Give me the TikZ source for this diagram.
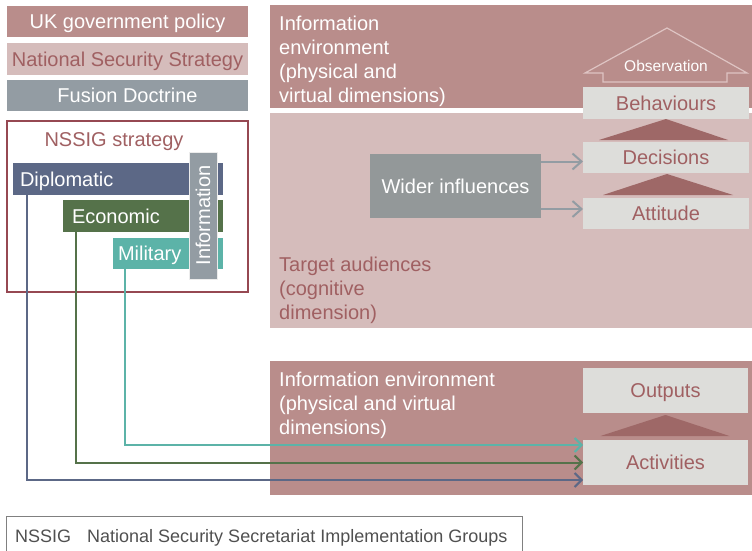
\documentclass[tikz,border=0pt]{standalone}
\usepackage{fontspec}
\setmainfont{Liberation Sans}
\usetikzlibrary{calc,arrows.meta}

\definecolor{roseA}{RGB}{185,141,139}
\definecolor{roseB}{RGB}{213,188,187}
\definecolor{roseText}{RGB}{160,96,98}
\definecolor{roseDark}{RGB}{158,104,103}
\definecolor{frameRed}{RGB}{150,72,82}
\definecolor{fusionGrey}{RGB}{147,156,163}
\definecolor{widerGrey}{RGB}{147,152,153}
\definecolor{paleGrey}{RGB}{221,221,218}
\definecolor{diplBlue}{RGB}{92,104,134}
\definecolor{econGreen}{RGB}{85,114,74}
\definecolor{milTeal}{RGB}{92,179,168}
\definecolor{obsPink}{RGB}{222,196,195}
\definecolor{legendText}{RGB}{80,80,80}

\begin{document}
\begin{tikzpicture}[x=1pt,y=-1pt,
	font=\fontsize{20}{24}\selectfont,
	boxsize/.style 2 args={minimum width=#1,minimum height=#2},
	box/.style={anchor=north west,inner sep=0pt,outer sep=0pt,text height=14.3pt,text depth=0pt},
	bar/.style={box,text=white,align=left,inner xsep=#1},
	txt/.style={anchor=north west,inner sep=0pt,align=left},
	tri/.style={fill=roseDark},
	link/.style={#1,line width=2pt,-{Straight Barb[length=7pt,width=14pt]}},
	wide/.style={fusionGrey,line width=2pt,-{Straight Barb[length=9pt,width=16pt]}}]
			%%%%% START %%%%%
			\useasboundingbox (0,0) rectangle (752,551);
			
			\node[box,boxsize={241}{31},fill=roseA,text=white] (ukpol) at (7,6) {UK government policy};
			\node[box,boxsize={241}{32},fill=roseB,text=roseText] (nss) at (7,43) {National Security Strategy};
			\node[box,boxsize={241}{31},fill=fusionGrey,text=white] (fusion) at (7,80) {Fusion Doctrine};
			
			\node[box,boxsize={241}{171},draw=frameRed,line width=1.5pt] (nssig) at (7,121) {};
			\node[text=roseText,anchor=base] (nssigtitle) at (114,146) {NSSIG strategy};
			
			\node[bar=7pt,text width=196pt,boxsize={210}{32},fill=diplBlue] (dipl) at (13,163) {Diplomatic};
			\node[bar=9pt,text width=142pt,boxsize={160}{32},fill=econGreen] (econ) at (63,200) {Economic};
			\node[bar=5pt,text width=100pt,boxsize={110}{31},fill=milTeal] (mil) at (113,238) {Military};
			\node[rotate=90,fill=fusionGrey,draw=white!85!gray,line width=1pt,inner sep=0pt,text=white,
				text height=14.3pt,text depth=0pt,boxsize={127}{28}] (info) at (203,215.5) {Information};
			
			\node[box,boxsize={482}{103},fill=roseA] (ietop) at (270,5) {};
			\node[box,boxsize={482}{215},fill=roseB] (ta) at (270,113) {};
			\node[txt,text=white] (ietoptxt) at (279,15.5) {Information\\environment\\(physical and\\virtual dimensions)};
			\node[txt,text=roseText] (tatxt) at (279,256.5) {Target audiences\\(cognitive\\dimension)};
			
			\draw[obsPink,line width=1.2pt] (585,73) -- (667,28) -- (747,73) -- (727,73) -- (727,82) -- (603,82) -- (603,73) -- cycle;
			\node[text=white,anchor=base,font=\fontsize{15.5}{18}\selectfont] (obs) at (666,71) {Observation};
			
			\node[box,boxsize={166}{32},fill=paleGrey,text=roseText] (beh) at (583,87) {Behaviours};
			\node[box,boxsize={166}{31},fill=paleGrey,text=roseText] (dec) at (583,142) {Decisions};
			\node[box,boxsize={166}{31},fill=paleGrey,text=roseText] (att) at (583,198) {Attitude};
			\fill[tri] ($(dec.north)+(-67,-2)$) -- (beh.south) -- ($(dec.north)+(62,-2)$) -- cycle;
			\fill[tri] ($(att.north)+(-63,-3)$) -- ($(dec.south)+(1,1)$) -- ($(att.north)+(67,-3)$) -- cycle;
			
			\node[box,boxsize={171}{64},fill=widerGrey,text=white] (wider) at (370,154) {Wider influences};
			\draw[wide] ($(wider.east |- dec.west)+(0,4)$) -- ($(dec.west)+(0,4)$);
			\draw[wide] ($(wider.east |- att.west)+(0,-4.5)$) -- ($(att.west)+(0,-4.5)$);
			
			\node[box,boxsize={482}{134},fill=roseA] (iebot) at (270,361) {};
			\node[txt,text=white] (iebottxt) at (279,371.5) {Information environment\\(physical and virtual\\dimensions)};
			\node[box,boxsize={165}{45},fill=paleGrey,text=roseText] (out) at (583,368) {Outputs};
			\node[box,boxsize={165}{45},fill=paleGrey,text=roseText] (act) at (583,440) {Activities};
			\fill[tri] ($(act.north)+(-65,-4)$) -- ($(out.south)+(0,2)$) -- ($(act.north)+(64,-4)$) -- cycle;
			
			\draw[link=diplBlue] ($(dipl.south west)+(13.5,0)$) |- ($(act.west)+(0,17.5)$);
			\draw[link=econGreen] ($(econ.south west)+(12.5,0)$) |- (act.west);
			\draw[link=milTeal] ($(mil.south west)+(11.5,0)$) |- ($(act.west)+(0,-17.5)$);
			
			\node[box,boxsize={516}{40},draw=gray,line width=1pt] (legend) at (6,516) {};
			\node[anchor=base west,inner sep=0pt,text=legendText,font=\fontsize{18}{21}\selectfont] (legendtxt) at (15,542)
				{NSSIG\hspace{16pt}National Security Secretariat Implementation Groups};
			
			%%%%% END %%%%%
		\end{tikzpicture}
\end{document}
